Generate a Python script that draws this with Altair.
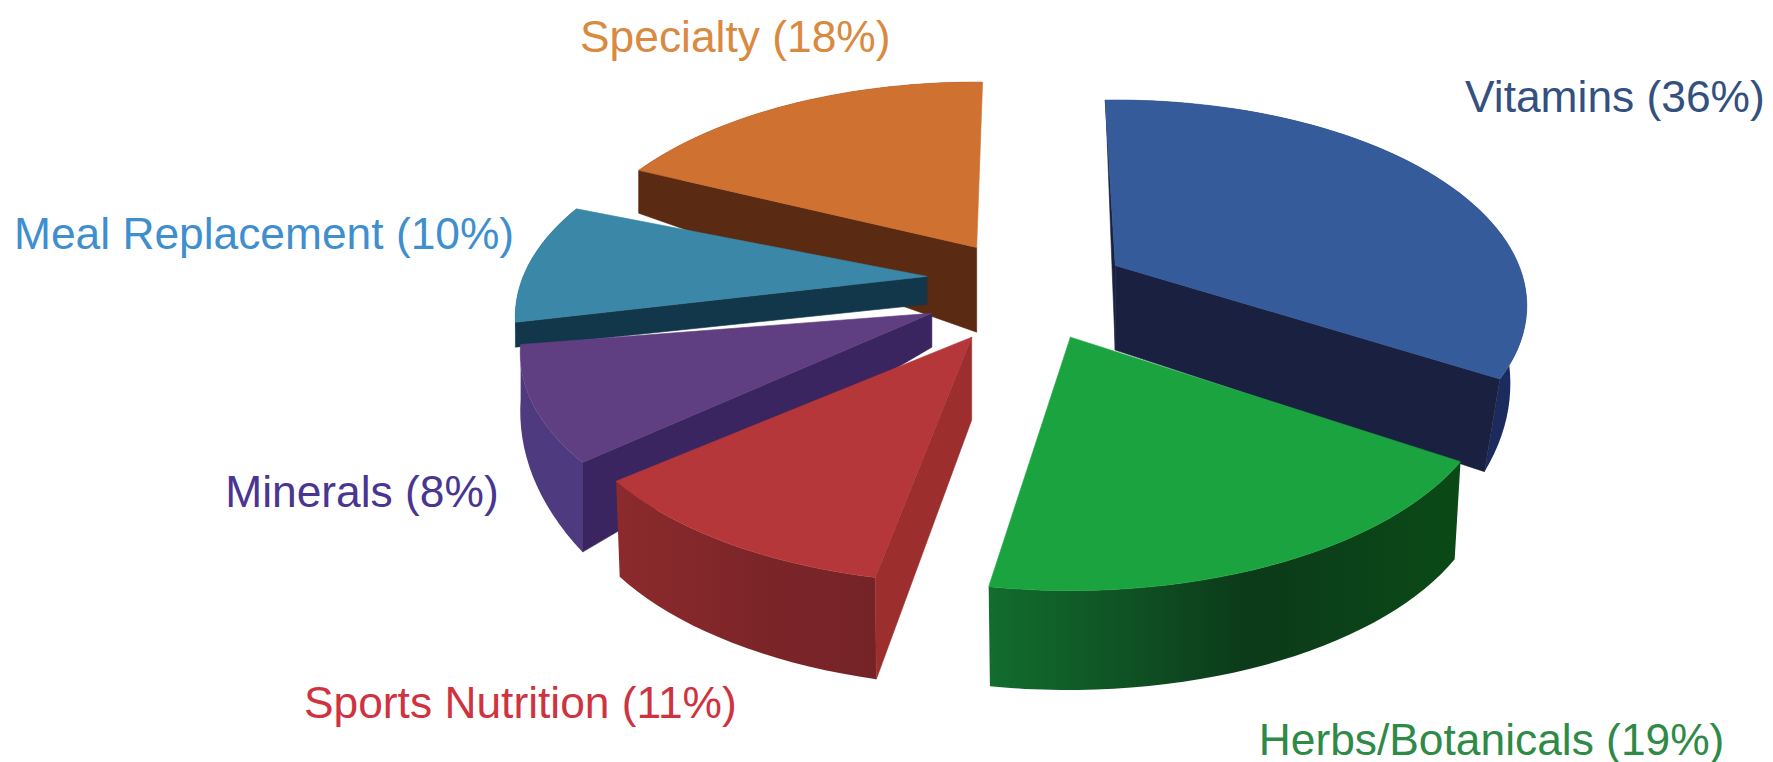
import math
import altair as alt
import pandas as pd

# ---- values
CATEGORIES = ["Vitamins", "Herbs/Botanicals", "Sports Nutrition", "Minerals", "Meal Replacement", "Specialty"]
SHARES = [36, 19, 11, 8, 10, 18]

# ---- colours
TOP = ["#365b9b", "#1ba33f", "#b53739", "#5f3f82", "#3a87a8", "#cf7130"]
CUT = ["#1a2140", "#0c3a1a", "#9c2e2e", "#3a2560", "#13374a", "#5a2a12"]
RIM_L = ["#1c2450", "#126d2e", "#8c2a2c", "#4e3a7f", "#13374a", "#5a2a12"]
RIM_M = ["#1c2b5e", "#0c3a1a", "#7c2529", "#4e3a7f", "#13374a", "#5a2a12"]
RIM_R = ["#1c2b5e", "#0a4a16", "#752327", "#4e3a7f", "#13374a", "#5a2a12"]
TEXT = ["#34507f", "#2f8a48", "#cf3340", "#4a3590", "#3f8fcf", "#d98a3f"]

# ---- layout of the tilted, exploded pie (page pixels)
RX, K, P = 405, 198.5, 0.196          # ellipse half width, tilt, perspective
THETA0 = -4                            # first slice start, degrees clockwise from top
APEX = [(1119, 265), (1074, 337), (975, 337), (935, 313), (930, 276), (980, 247)]
SCALE = [1.0, 1.03, 1.0, 1.0, 1.0, 1.0]   # drawn size of each slice
BASE_SHRINK = [0.04, 0.015, 0.01, 0, 0, 0]  # the underside is a little narrower
DEPTH_START = [0, 98, 102, 90, 25, 43]    # thickness at the slice's first edge
DEPTH_END = [93, 100, 96, 55, 0, 0]       # thickness at its last edge
DEPTH_APEX = [85, 0, 83, 34, 28, 85]      # thickness at the centre point
START_NUDGE = [2.3, 0, 1, 0, 0, 2.5]
END_NUDGE = [-2, -1, 1.5, 4, -1, 5]
# which cut face is seen: first edge, last edge
SHOW_START = [True, False, True, True, True, True]
SHOW_END = [True, False, False, False, False, False]
PAINT = [5, 4, 3, 2, 0, 1]             # back to front
LABEL_POS = [(1470, 98), (1263, 743), (305, 706), (226, 494), (14, 236), (582, 38)]
FONT = 44.5
W, H = 1757, 744

X_SCALE = alt.Scale(domain=[8, 8 + W])
Y_SCALE = alt.Scale(domain=[8 + H, 8])


def project(theta):
    t = math.radians(theta)
    u, v = math.sin(t), -math.cos(t)
    f = 1 / (1 - P * v)
    return RX * u * f, K * v * f


def poly(points, fill):
    df = pd.DataFrame({"x": [p[0] for p in points], "y": [p[1] for p in points],
                       "i": list(range(len(points)))})
    stroke = fill if isinstance(fill, str) else "#00000000"
    return alt.Chart(df).mark_line(fill=fill, stroke=stroke, strokeWidth=0.6,
                                   interpolate="linear-closed").encode(
        x=alt.X("x:Q", scale=X_SCALE, axis=None),
        y=alt.Y("y:Q", scale=Y_SCALE, axis=None),
        order=alt.Order("i:Q"),
    )


total = sum(SHARES)
layers = []
starts, ends = [], []
acc = THETA0
for s, n0, n1 in zip(SHARES, START_NUDGE, END_NUDGE):
    starts.append(acc + n0)
    acc += s / total * 360
    ends.append(acc + n1)

for idx in PAINT:
    ax, ay = APEX[idx]
    a0, a1 = starts[idx], ends[idx]
    n = max(2, int((a1 - a0) / 2))
    thetas = [a0 + (a1 - a0) * j / n for j in range(n + 1)]
    k = SCALE[idx]
    arc = [(ax + k * project(t)[0], ay + k * project(t)[1]) for t in thetas]
    deps = [DEPTH_START[idx] + (DEPTH_END[idx] - DEPTH_START[idx]) * j / n for j in range(n + 1)]
    low = [(p[0] - BASE_SHRINK[idx] * (p[0] - ax), p[1] + d) for p, d in zip(arc, deps)]
    # rim: gradient runs left to right across the polygon's box
    grad = alt.LinearGradient(gradient="linear", x1=0, x2=1, y1=0, y2=0,
                              stops=[alt.GradientStop(color=RIM_L[idx], offset=0),
                                     alt.GradientStop(color=RIM_M[idx], offset=0.55),
                                     alt.GradientStop(color=RIM_R[idx], offset=1)])
    layers.append(poly(arc + low[::-1], grad))
    # cut faces
    apex_low = (ax, ay + DEPTH_APEX[idx])
    if SHOW_START[idx]:
        layers.append(poly([arc[0], (ax, ay), apex_low, low[0]], CUT[idx]))
    if SHOW_END[idx]:
        layers.append(poly([arc[-1], (ax, ay), apex_low, low[-1]], CUT[idx]))
    # top
    layers.append(poly([(ax, ay)] + arc, TOP[idx]))

labels = pd.DataFrame({
    "text": [f"{c} ({s}%)" for c, s in zip(CATEGORIES, SHARES)],
    "x": [p[0] for p in LABEL_POS],
    "y": [p[1] for p in LABEL_POS],
    "color": TEXT,
})
layers.append(alt.Chart(labels).mark_text(align="left", baseline="middle", fontSize=FONT,
                                          font="Liberation Sans").encode(
    x=alt.X("x:Q", scale=X_SCALE, axis=None),
    y=alt.Y("y:Q", scale=Y_SCALE, axis=None),
    text="text:N",
    color=alt.Color("color:N", scale=None),
))

chart = alt.layer(*layers).properties(width=W, height=H, padding=0).configure_view(stroke=None)
chart.save("out.html", embed_options={"renderer": "svg", "actions": False})
